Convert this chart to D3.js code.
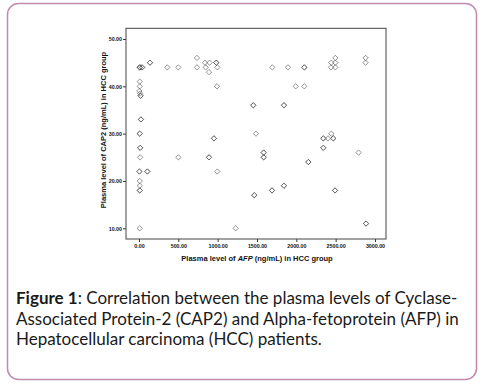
<!DOCTYPE html>
<html>
<head>
<meta charset="utf-8">
<script src="https://cdn.jsdelivr.net/npm/d3@7"></script>
<style>
  body { margin: 0; background: #fff; }
  svg { display: block; }
</style>
</head>
<body>
<div id="chart"></div>
<script>
// AFP (ng/mL) and CAP2 (ng/mL), one entry per case; repeated entries are overlapping cases
const afp = [10, 10, 10, 40, 40, 140, 140, 360, 500, 737, 737, 839, 847, 898, 890, 983, 983, 996, 992, 953, 953,
  10, 10, 5, 15, 20, 20, 25, 25, 10, 10, 15, 15, 15, 5, 5, 106, 106, 10, 10, 10, 10, 10,
  500, 890, 890, 996, 1229, 1453, 1453, 1487, 1466, 1466, 1585, 1585, 1585, 1585, 1691, 1691, 1695,
  1843, 1843, 1843, 1843, 1894, 1992, 2102, 2102, 2102, 2153, 2153, 2343, 2343, 2343, 2343, 2403, 2445,
  2470, 2470, 2492, 2492, 2441, 2445, 2496, 2496, 2496, 2792, 2881, 2881, 2886, 2886];
const cap2 = [44, 44, 44, 44, 44, 45, 45, 44, 44, 46, 44, 45, 44, 45, 43, 45, 45, 44, 40, 29, 29,
  41, 40, 39, 38.5, 38, 38, 33, 33, 30, 30, 27, 27, 25, 22, 22, 22, 22, 20, 19, 18, 18, 10,
  25, 25, 25, 22, 10, 36, 36, 30, 17, 17, 26, 26, 25, 25, 18, 18, 44,
  36, 36, 19, 19, 44, 40, 40, 44, 44, 24, 24, 27, 27, 29, 29, 29, 30,
  29, 29, 18, 18, 44, 45, 46, 45, 44, 26, 46, 45, 11, 11];

const xTicks = [0, 500, 1000, 1500, 2000, 2500, 3000];
const yTicks = [10, 20, 30, 40, 50];
const xDomain = [-165, 3140];
const yDomain = [7.74, 52.26];

const captionLines = [
  [{t: "Figure 1", b: true}, {t: ": Correlation between the plasma levels of Cyclase-"}],
  [{t: "Associated Protein-2 (CAP2) and Alpha-fetoprotein (AFP) in"}],
  [{t: "Hepatocellular carcinoma (HCC) patients."}]
];

const W = 481, H = 384;
const plot = {left: 126, right: 386, top: 28.3, bottom: 239};
const axisFont = "Liberation Sans, Arial, sans-serif";

const svg = d3.select("#chart").append("svg")
  .attr("width", W)
  .attr("height", H);

// card frame
svg.append("rect")
  .attr("x", 7.5).attr("y", 3.5)
  .attr("width", 469).attr("height", 376)
  .attr("rx", 11).attr("ry", 11)
  .attr("fill", "none")
  .attr("stroke", "#c48aae")
  .attr("stroke-width", 1.5);

const x = d3.scaleLinear().domain(xDomain).range([plot.left, plot.right]);
const y = d3.scaleLinear().domain(yDomain).range([plot.bottom, plot.top]);

// axes
svg.append("g")
  .attr("transform", "translate(0," + plot.bottom + ")")
  .call(d3.axisBottom(x).tickValues(xTicks).tickSize(3).tickPadding(2)
    .tickFormat(d => d.toFixed(2)))
  .call(g => g.select(".domain").remove())
  .selectAll("text")
  .style("font-family", axisFont)
  .style("font-size", "5.3px")
  .style("font-weight", "bold")
  .attr("fill", "#111");

svg.append("g")
  .attr("transform", "translate(" + plot.left + ",0)")
  .call(d3.axisLeft(y).tickValues(yTicks).tickSize(3).tickPadding(1)
    .tickFormat(d => d.toFixed(2)))
  .call(g => g.select(".domain").remove())
  .selectAll("text")
  .style("font-family", axisFont)
  .style("font-size", "5.3px")
  .style("font-weight", "bold")
  .attr("fill", "#111");

svg.selectAll(".tick line").attr("stroke", "#333");

// plot frame
svg.append("rect")
  .attr("x", plot.left).attr("y", plot.top)
  .attr("width", plot.right - plot.left)
  .attr("height", plot.bottom - plot.top)
  .attr("fill", "none")
  .attr("stroke", "#444")
  .attr("stroke-width", 1);

// points
const diamond = d3.symbol().type(d3.symbolSquare).size(14);
svg.append("g")
  .selectAll("path")
  .data(afp.map((a, i) => ({a: a, c: cap2[i]})))
  .enter()
  .append("path")
  .attr("d", diamond)
  .attr("transform", d => "translate(" + x(d.a) + "," + y(d.c) + ") rotate(45)")
  .attr("fill", "none")
  .attr("stroke", "#444")
  .attr("stroke-opacity", 0.6)
  .attr("stroke-width", 0.9);

// axis titles
svg.append("text")
  .attr("x", 257)
  .attr("y", 260.5)
  .attr("text-anchor", "middle")
  .style("font-family", axisFont)
  .style("font-size", "7.5px")
  .style("font-weight", "bold")
  .attr("fill", "#111")
  .call(t => {
    t.append("tspan").text("Plasma level of ");
    t.append("tspan").style("font-style", "italic").text("AFP");
    t.append("tspan").text(" (ng/mL) in HCC group");
  });

svg.append("text")
  .attr("transform", "translate(106," + 130 + ") rotate(-90)")
  .attr("text-anchor", "middle")
  .style("font-family", axisFont)
  .style("font-size", "7.5px")
  .style("font-weight", "bold")
  .attr("fill", "#111")
  .text("Plasma level of CAP2 (ng/mL) in HCC group");

// caption
const cap = svg.append("text")
  .style("font-family", "Lato, sans-serif")
  .style("font-size", "17px")
  .attr("fill", "#1a1a1a");

captionLines.forEach((line, i) => {
  line.forEach((part, j) => {
    const ts = cap.append("tspan").text(part.t);
    if (j === 0) ts.attr("x", 16).attr("y", 304 + i * 20.5);
    if (part.b) ts.style("font-weight", "bold");
  });
});
</script>
</body>
</html>
